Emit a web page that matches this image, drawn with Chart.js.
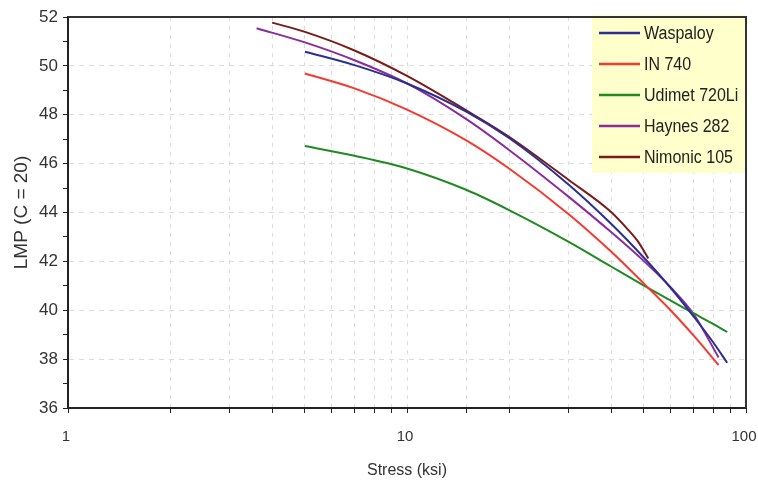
<!DOCTYPE html>
<html>
<head>
<meta charset="utf-8">
<title>LMP vs Stress</title>
<script src="https://cdn.jsdelivr.net/npm/chart.js@4.4.1/dist/chart.umd.min.js"></script>
<style>
	body { margin: 0; background: #fff; }
	#lmpChart { display: block; }
</style>
</head>
<body>
<canvas id="lmpChart" width="758" height="480"></canvas>
<script>
// values
var waspaloyStress = [5, 7, 10, 15, 20, 30, 40, 50, 60, 70, 80, 88];
var waspaloyLmp    = [50.58, 50.03, 49.28, 48.12, 47.05, 45.14, 43.54, 42.15, 40.91, 39.75, 38.69, 37.85];

var in740Stress = [5, 7, 10, 15, 20, 30, 40, 50, 60, 70, 83];
var in740Lmp    = [49.69, 49.08, 48.21, 46.94, 45.80, 43.93, 42.40, 41.09, 39.99, 38.97, 37.76];

var udimetStress = [5, 7, 10, 15, 20, 30, 40, 50, 60, 70, 80, 88];
var udimetLmp    = [46.72, 46.32, 45.80, 44.92, 44.10, 42.80, 41.79, 41.01, 40.39, 39.88, 39.44, 39.11];

var haynesStress = [3.6, 5, 7, 10, 15, 20, 30, 40, 50, 60, 70, 83];
var haynesLmp    = [51.54, 50.96, 50.23, 49.28, 47.81, 46.56, 44.64, 43.20, 42.01, 40.93, 39.85, 38.07];

var nimonicStress = [4, 5, 7, 10, 15, 20, 30, 40, 45, 48, 51.5];
var nimonicLmp    = [51.77, 51.39, 50.63, 49.59, 48.17, 47.1, 45.33, 44.02, 43.28, 42.82, 42.12];

var seriesNames  = ['Waspaloy', 'IN 740', 'Udimet 720Li', 'Haynes 282', 'Nimonic 105'];
var seriesColors = ['#2b2f93', '#f53a30', '#1f8a22', '#8a2c9c', '#7a1a1a'];

var xTickLabels = [1, 10, 100];
var yMin = 36, yMax = 52;

var FONT = "'Liberation Sans', Arial, sans-serif";

function toPoints(xs, ys) {
	var pts = [];
	xs.forEach(function(x, i) {
		pts.push({ x: x, y: ys[i] });
	});
	return pts;
}

var allStress = [waspaloyStress, in740Stress, udimetStress, haynesStress, nimonicStress];
var allLmp = [waspaloyLmp, in740Lmp, udimetLmp, haynesLmp, nimonicLmp];

var datasets = seriesNames.map(function(name, i) {
	return {
		label: name,
		data: toPoints(allStress[i], allLmp[i]),
		borderColor: seriesColors[i],
		backgroundColor: seriesColors[i],
		borderWidth: 2,
		pointRadius: 0,
		fill: false,
		cubicInterpolationMode: 'monotone'
	};
});

// legend drawn inside the plot, top right
var legendBox = {
	id: 'legendBox',
	afterDatasetsDraw: function(chart) {
		var ctx = chart.ctx;
		var area = chart.chartArea;
		var w = 154, h = 158;
		var x = area.right - w, y = area.top - 2;
		ctx.save();
		ctx.fillStyle = '#ffffcc';
		ctx.fillRect(x, y, w, h);
		ctx.font = '16px ' + FONT;
		ctx.textBaseline = 'middle';
		ctx.textAlign = 'left';
		chart.data.datasets.forEach(function(ds, i) {
			var cy = y + 18 + i * 31;
			ctx.strokeStyle = ds.borderColor;
			ctx.lineWidth = 2.5;
			ctx.beginPath();
			ctx.moveTo(x + 7, cy);
			ctx.lineTo(x + 48, cy);
			ctx.stroke();
			ctx.save();
			ctx.translate(x + 52, cy + 1);
			ctx.scale(1, 1.15);
			ctx.fillStyle = '#222';
			ctx.fillText(ds.label, 0, 0);
			ctx.restore();
		});
		ctx.restore();
	}
};

// top and right frame lines
var plotFrame = {
	id: 'plotFrame',
	afterDraw: function(chart) {
		var ctx = chart.ctx;
		var a = chart.chartArea;
		ctx.save();
		ctx.strokeStyle = '#333';
		ctx.lineWidth = 2;
		ctx.beginPath();
		ctx.moveTo(a.left, a.top);
		ctx.lineTo(a.right, a.top);
		ctx.lineTo(a.right, a.bottom);
		ctx.stroke();
		ctx.restore();
	}
};

var config = {
	type: 'line',
	data: { datasets: datasets },
	options: {
		responsive: false,
		animation: false,
		layout: {
			padding: { top: 17, right: 12, left: 0, bottom: 0 }
		},
		plugins: {
			legend: { display: false },
			tooltip: { enabled: false }
		},
		scales: {
			x: {
				type: 'logarithmic',
				min: 1,
				max: 100,
				afterFit: function(scale) {
					scale.height = 72;
					scale.paddingLeft = 0;
					scale.paddingRight = 0;
				},
				border: { display: true, color: '#222', width: 2, dash: [4, 5] },
				grid: {
					color: '#dcdcdc',
					lineWidth: 1,
					tickColor: '#222',
					tickLength: 5,
					tickBorderDash: []
				},
				ticks: {
					autoSkip: false,
					maxRotation: 0,
					padding: 15,
					labelOffset: -2,
					color: '#333',
					font: { family: FONT, size: 15 },
					callback: function(value) {
						var lg = Math.log10(value);
						var v = Math.round(Math.pow(10, Math.round(lg)));
						if (Math.abs(lg - Math.round(lg)) < 1e-6 && xTickLabels.indexOf(v) >= 0) {
							return String(v);
						}
						return '';
					}
				},
				title: {
					display: true,
					text: 'Stress (ksi)',
					color: '#333',
					font: { family: FONT, size: 16 },
					padding: { top: 6, bottom: 0 }
				}
			},
			y: {
				type: 'linear',
				min: yMin,
				max: yMax,
				afterFit: function(scale) { scale.width = 68; },
				border: { display: true, color: '#222', width: 2, dash: [5, 5] },
				grid: {
					color: function(c) {
						return (c.tick && c.tick.value % 2 === 0) ? '#dcdcdc' : 'rgba(0,0,0,0)';
					},
					lineWidth: 1,
					tickColor: '#222',
					tickLength: 5,
					tickBorderDash: []
				},
				ticks: {
					stepSize: 1,
					padding: 5,
					color: '#333',
					font: { family: FONT, size: 17 },
					callback: function(value) {
						return value % 2 === 0 ? String(value) : '';
					}
				},
				title: {
					display: true,
					text: 'LMP (C = 20)',
					color: '#333',
					font: { family: FONT, size: 19 },
					padding: { top: 10, bottom: 0 }
				}
			}
		}
	},
	plugins: [legendBox, plotFrame]
};

var lmpChart = new Chart(document.getElementById('lmpChart'), config);
</script>
</body>
</html>
